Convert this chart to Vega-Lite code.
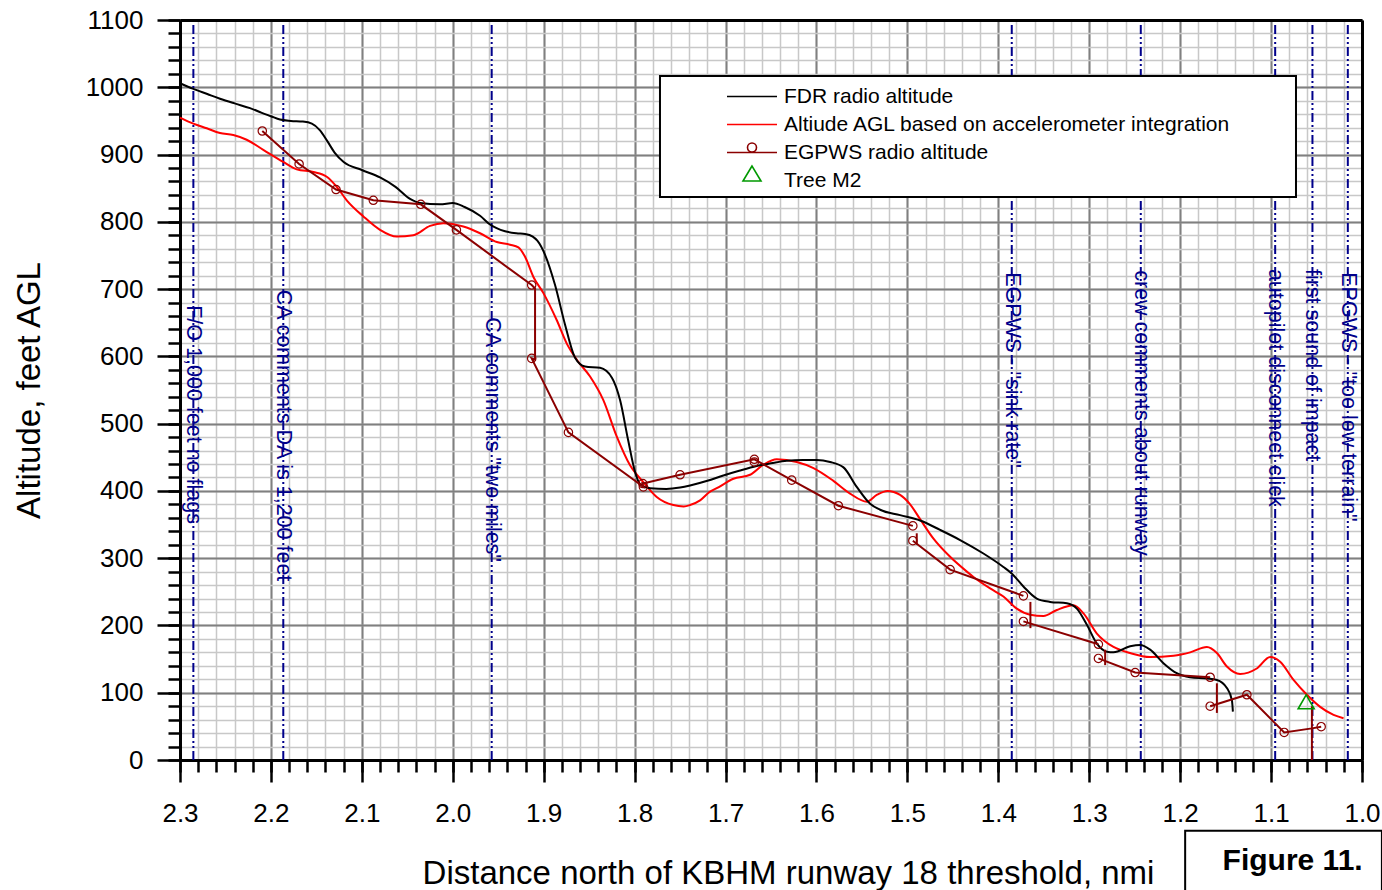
{
  "$schema": "https://vega.github.io/schema/vega-lite/v6.json",
  "width": 1182,
  "height": 740,
  "autosize": {"type": "none"},
  "padding": {"left": 180, "top": 20, "right": 20, "bottom": 130},
  "background": "white",
  "config": {
    "font": "Liberation Sans",
    "view": {"stroke": null},
    "axis": {"labelFont": "Liberation Sans", "titleFont": "Liberation Sans", "labelColor": "black", "titleColor": "black", "titleFontWeight": "normal"}
  },
  "datasets": {
    "events": [
      {"x": 2.2853, "labely": 676, "label": "F/O 1,000 feet no flags"},
      {"x": 2.1864, "labely": 699, "label": "CA comments DA is 1,200 feet"},
      {"x": 1.9572, "labely": 658, "label": "CA comments \"two miles\""},
      {"x": 1.3852, "labely": 725, "label": "EGPWS - \"sink rate\""},
      {"x": 1.2433, "labely": 728, "label": "crew comments about runway"},
      {"x": 1.0955, "labely": 730, "label": "autopilot disconnect click"},
      {"x": 1.0545, "labely": 730, "label": "first sound of impact"},
      {"x": 1.0156, "labely": 725, "label": "EPGWS - \"too low terrain\""}
    ],
    "fdr": [
      {"x": 2.300, "alt": 1006}, {"x": 2.286, "alt": 998}, {"x": 2.270, "alt": 990}, {"x": 2.256, "alt": 983},
      {"x": 2.240, "alt": 976}, {"x": 2.223, "alt": 969}, {"x": 2.210, "alt": 962}, {"x": 2.200, "alt": 957},
      {"x": 2.190, "alt": 952}, {"x": 2.178, "alt": 950}, {"x": 2.165, "alt": 949}, {"x": 2.155, "alt": 946},
      {"x": 2.146, "alt": 936}, {"x": 2.138, "alt": 920}, {"x": 2.130, "alt": 903}, {"x": 2.120, "alt": 889},
      {"x": 2.100, "alt": 877}, {"x": 2.080, "alt": 866}, {"x": 2.063, "alt": 852}, {"x": 2.047, "alt": 834},
      {"x": 2.036, "alt": 828}, {"x": 2.014, "alt": 826}, {"x": 2.000, "alt": 828}, {"x": 1.987, "alt": 822},
      {"x": 1.970, "alt": 809}, {"x": 1.959, "alt": 796}, {"x": 1.9425, "alt": 786}, {"x": 1.930, "alt": 783},
      {"x": 1.9205, "alt": 782}, {"x": 1.912, "alt": 778}, {"x": 1.907, "alt": 772}, {"x": 1.8985, "alt": 751},
      {"x": 1.8875, "alt": 706}, {"x": 1.8765, "alt": 647}, {"x": 1.8655, "alt": 598}, {"x": 1.8545, "alt": 585},
      {"x": 1.838, "alt": 583}, {"x": 1.8248, "alt": 568}, {"x": 1.816, "alt": 535}, {"x": 1.8072, "alt": 476},
      {"x": 1.7995, "alt": 428}, {"x": 1.794, "alt": 410}, {"x": 1.783, "alt": 404}, {"x": 1.765, "alt": 403},
      {"x": 1.750, "alt": 405}, {"x": 1.739, "alt": 408}, {"x": 1.720, "alt": 415}, {"x": 1.7024, "alt": 423},
      {"x": 1.685, "alt": 430}, {"x": 1.6657, "alt": 437}, {"x": 1.650, "alt": 441}, {"x": 1.6326, "alt": 445},
      {"x": 1.615, "alt": 446}, {"x": 1.5996, "alt": 446}, {"x": 1.585, "alt": 443}, {"x": 1.5703, "alt": 435},
      {"x": 1.5557, "alt": 406}, {"x": 1.541, "alt": 381}, {"x": 1.530, "alt": 372}, {"x": 1.508, "alt": 364},
      {"x": 1.486, "alt": 356}, {"x": 1.464, "alt": 342}, {"x": 1.442, "alt": 327}, {"x": 1.4164, "alt": 307},
      {"x": 1.3944, "alt": 287}, {"x": 1.385, "alt": 277}, {"x": 1.3724, "alt": 258}, {"x": 1.3577, "alt": 240},
      {"x": 1.343, "alt": 235}, {"x": 1.3246, "alt": 233}, {"x": 1.3136, "alt": 225}, {"x": 1.3026, "alt": 201},
      {"x": 1.2916, "alt": 173}, {"x": 1.2806, "alt": 161}, {"x": 1.2733, "alt": 160}, {"x": 1.255, "alt": 169},
      {"x": 1.244, "alt": 171}, {"x": 1.233, "alt": 164}, {"x": 1.2184, "alt": 144}, {"x": 1.2037, "alt": 129},
      {"x": 1.189, "alt": 123}, {"x": 1.1706, "alt": 121}, {"x": 1.1596, "alt": 119}, {"x": 1.1486, "alt": 107},
      {"x": 1.1431, "alt": 89}, {"x": 1.142, "alt": 72}
    ],
    "accel": [
      {"x": 2.300, "alt": 955}, {"x": 2.2853, "alt": 946}, {"x": 2.2706, "alt": 939}, {"x": 2.256, "alt": 932},
      {"x": 2.2414, "alt": 929}, {"x": 2.2267, "alt": 922}, {"x": 2.2084, "alt": 907}, {"x": 2.1864, "alt": 889},
      {"x": 2.1716, "alt": 878}, {"x": 2.1533, "alt": 874}, {"x": 2.1386, "alt": 867}, {"x": 2.1276, "alt": 852},
      {"x": 2.1166, "alt": 832}, {"x": 2.0983, "alt": 808}, {"x": 2.080, "alt": 788}, {"x": 2.0616, "alt": 778},
      {"x": 2.0434, "alt": 780}, {"x": 2.025, "alt": 794}, {"x": 2.0104, "alt": 798}, {"x": 1.9884, "alt": 793},
      {"x": 1.970, "alt": 783}, {"x": 1.9516, "alt": 770}, {"x": 1.937, "alt": 766}, {"x": 1.9278, "alt": 762},
      {"x": 1.9205, "alt": 748}, {"x": 1.9113, "alt": 718}, {"x": 1.9003, "alt": 694}, {"x": 1.8857, "alt": 654},
      {"x": 1.8746, "alt": 619}, {"x": 1.8636, "alt": 595}, {"x": 1.849, "alt": 570}, {"x": 1.8344, "alt": 535},
      {"x": 1.8197, "alt": 481}, {"x": 1.805, "alt": 438}, {"x": 1.7904, "alt": 413}, {"x": 1.7757, "alt": 391},
      {"x": 1.7574, "alt": 379}, {"x": 1.746, "alt": 377}, {"x": 1.739, "alt": 379}, {"x": 1.728, "alt": 386},
      {"x": 1.717, "alt": 399}, {"x": 1.7097, "alt": 404}, {"x": 1.6913, "alt": 418}, {"x": 1.673, "alt": 424},
      {"x": 1.6583, "alt": 439}, {"x": 1.6437, "alt": 447}, {"x": 1.6217, "alt": 443}, {"x": 1.6033, "alt": 434},
      {"x": 1.5814, "alt": 415}, {"x": 1.563, "alt": 396}, {"x": 1.5446, "alt": 384}, {"x": 1.5337, "alt": 394},
      {"x": 1.522, "alt": 400}, {"x": 1.508, "alt": 394}, {"x": 1.497, "alt": 380}, {"x": 1.486, "alt": 358},
      {"x": 1.4713, "alt": 329}, {"x": 1.453, "alt": 302}, {"x": 1.4346, "alt": 280}, {"x": 1.4273, "alt": 272},
      {"x": 1.409, "alt": 255}, {"x": 1.3944, "alt": 243}, {"x": 1.3797, "alt": 225}, {"x": 1.365, "alt": 216},
      {"x": 1.3504, "alt": 214}, {"x": 1.3356, "alt": 223}, {"x": 1.3173, "alt": 230}, {"x": 1.3063, "alt": 218},
      {"x": 1.2916, "alt": 188}, {"x": 1.2733, "alt": 168}, {"x": 1.255, "alt": 159}, {"x": 1.233, "alt": 153},
      {"x": 1.2073, "alt": 155}, {"x": 1.189, "alt": 160}, {"x": 1.1706, "alt": 168}, {"x": 1.1596, "alt": 159},
      {"x": 1.1486, "alt": 139}, {"x": 1.134, "alt": 128}, {"x": 1.1157, "alt": 136}, {"x": 1.101, "alt": 153},
      {"x": 1.09, "alt": 146}, {"x": 1.0753, "alt": 119}, {"x": 1.0606, "alt": 97}, {"x": 1.046, "alt": 79},
      {"x": 1.0313, "alt": 67}, {"x": 1.0203, "alt": 62}
    ],
    "egpws_line": [
      {"seg": 1, "i": 1, "x": 2.2095, "alt": 935}, {"seg": 1, "i": 2, "x": 2.169, "alt": 886},
      {"seg": 1, "i": 3, "x": 2.1284, "alt": 848}, {"seg": 1, "i": 4, "x": 2.0874, "alt": 832},
      {"seg": 1, "i": 5, "x": 2.0352, "alt": 826}, {"seg": 1, "i": 6, "x": 1.996, "alt": 788},
      {"seg": 1, "i": 7, "x": 1.9132, "alt": 706}, {"seg": 1, "i": 8, "x": 1.9095, "alt": 701},
      {"seg": 1, "i": 9, "x": 1.9095, "alt": 595}, {"seg": 1, "i": 10, "x": 1.9132, "alt": 597},
      {"seg": 1, "i": 11, "x": 1.8728, "alt": 487}, {"seg": 1, "i": 12, "x": 1.7904, "alt": 406},
      {"seg": 1, "i": 13, "x": 1.791, "alt": 411}, {"seg": 1, "i": 14, "x": 1.75, "alt": 424},
      {"seg": 1, "i": 15, "x": 1.6683, "alt": 447}, {"seg": 1, "i": 16, "x": 1.6272, "alt": 416},
      {"seg": 1, "i": 17, "x": 1.5759, "alt": 378}, {"seg": 1, "i": 18, "x": 1.494, "alt": 348},
      {"seg": 2, "i": 19, "x": 1.4897, "alt": 337}, {"seg": 2, "i": 20, "x": 1.4897, "alt": 320},
      {"seg": 3, "i": 21, "x": 1.494, "alt": 326}, {"seg": 3, "i": 22, "x": 1.453, "alt": 283},
      {"seg": 3, "i": 23, "x": 1.3724, "alt": 244},
      {"seg": 4, "i": 24, "x": 1.3647, "alt": 235}, {"seg": 4, "i": 25, "x": 1.3647, "alt": 196},
      {"seg": 5, "i": 26, "x": 1.3724, "alt": 206}, {"seg": 5, "i": 27, "x": 1.2899, "alt": 172},
      {"seg": 6, "i": 28, "x": 1.2825, "alt": 164}, {"seg": 6, "i": 29, "x": 1.2825, "alt": 141},
      {"seg": 7, "i": 30, "x": 1.2899, "alt": 151}, {"seg": 7, "i": 31, "x": 1.2495, "alt": 130},
      {"seg": 7, "i": 32, "x": 1.167, "alt": 123},
      {"seg": 8, "i": 33, "x": 1.1596, "alt": 114}, {"seg": 8, "i": 34, "x": 1.1596, "alt": 70},
      {"seg": 9, "i": 35, "x": 1.167, "alt": 80}, {"seg": 9, "i": 36, "x": 1.1266, "alt": 97},
      {"seg": 9, "i": 37, "x": 1.0856, "alt": 41}, {"seg": 9, "i": 38, "x": 1.0551, "alt": 47},
      {"seg": 9, "i": 39, "x": 1.0449, "alt": 49.5},
      {"seg": 10, "i": 40, "x": 1.0551, "alt": 80}, {"seg": 10, "i": 41, "x": 1.0551, "alt": 0}
    ],
    "egpws_pts": [
      {"x": 2.2095, "alt": 935}, {"x": 2.169, "alt": 886}, {"x": 2.1284, "alt": 848}, {"x": 2.0874, "alt": 832},
      {"x": 2.0352, "alt": 826}, {"x": 1.996, "alt": 788}, {"x": 1.9132, "alt": 706}, {"x": 1.9132, "alt": 597},
      {"x": 1.8728, "alt": 487}, {"x": 1.791, "alt": 411}, {"x": 1.7904, "alt": 406}, {"x": 1.75, "alt": 424},
      {"x": 1.6683, "alt": 447}, {"x": 1.6683, "alt": 443}, {"x": 1.6272, "alt": 416}, {"x": 1.5759, "alt": 378},
      {"x": 1.494, "alt": 348}, {"x": 1.494, "alt": 326}, {"x": 1.453, "alt": 283}, {"x": 1.3724, "alt": 244},
      {"x": 1.3724, "alt": 206}, {"x": 1.2899, "alt": 172}, {"x": 1.2899, "alt": 151}, {"x": 1.2495, "alt": 130},
      {"x": 1.167, "alt": 123}, {"x": 1.167, "alt": 80}, {"x": 1.1266, "alt": 97}, {"x": 1.0856, "alt": 41},
      {"x": 1.0449, "alt": 49.5}
    ],
    "tree": [
      {"x": 1.0614, "alt": 86.5}
    ]
  },
  "layer": [
    {
      "data": {"name": "events"},
      "mark": {"type": "rule", "color": "#00008B", "strokeWidth": 2, "strokeDash": [9, 3, 2, 3, 2, 3]},
      "encoding": {
        "x": {"field": "x", "type": "quantitative",
          "scale": {"domain": [1.0, 2.3], "reverse": true, "nice": false, "zero": false},
          "axis": {"orient": "bottom", "title": null, "labels": false, "domain": false,
            "ticks": true, "tickSize": 12, "tickWidth": 2.5, "tickColor": "black",
            "grid": true, "gridColor": "#c8c8c8", "gridWidth": 1.5,
            "values": [1, 1.02, 1.04, 1.06, 1.08, 1.1, 1.12, 1.14, 1.16, 1.18, 1.2, 1.22, 1.24, 1.26, 1.28, 1.3, 1.32, 1.34, 1.36, 1.38, 1.4, 1.42, 1.44, 1.46, 1.48, 1.5, 1.52, 1.54, 1.56, 1.58, 1.6, 1.62, 1.64, 1.66, 1.68, 1.7, 1.72, 1.74, 1.76, 1.78, 1.8, 1.82, 1.84, 1.86, 1.88, 1.9, 1.92, 1.94, 1.96, 1.98, 2, 2.02, 2.04, 2.06, 2.08, 2.1, 2.12, 2.14, 2.16, 2.18, 2.2, 2.22, 2.24, 2.26, 2.28, 2.3]}},
        "y": {"datum": 0, "type": "quantitative",
          "scale": {"domain": [0, 1100], "nice": false, "zero": false},
          "axis": {"orient": "left", "title": null, "labels": false, "domain": false,
            "ticks": true, "tickSize": 12, "tickWidth": 2.5, "tickColor": "black",
            "grid": true, "gridColor": "#c8c8c8", "gridWidth": 1.5,
            "values": [0, 20, 40, 60, 80, 100, 120, 140, 160, 180, 200, 220, 240, 260, 280, 300, 320, 340, 360, 380, 400, 420, 440, 460, 480, 500, 520, 540, 560, 580, 600, 620, 640, 660, 680, 700, 720, 740, 760, 780, 800, 820, 840, 860, 880, 900, 920, 940, 960, 980, 1000, 1020, 1040, 1060, 1080, 1100]}},
        "y2": {"datum": 1100}
      }
    },
    {
      "data": {"values": [{}]},
      "mark": {"type": "rect", "fill": "white", "stroke": "black", "strokeWidth": 2},
      "encoding": {
        "x": {"datum": 1.7721, "type": "quantitative", "scale": {"domain": [1.0, 2.3], "reverse": true, "nice": false, "zero": false}, "axis": null},
        "x2": {"datum": 1.0726},
        "y": {"datum": 1016.8, "type": "quantitative", "scale": {"domain": [0, 1100], "nice": false, "zero": false}, "axis": null},
        "y2": {"datum": 836.9}
      }
    },
    {
      "data": {"name": "events"},
      "mark": {"type": "text", "angle": 90, "align": "left", "baseline": "middle", "fontSize": 21.5, "color": "#00008B", "font": "Liberation Sans"},
      "encoding": {
        "x": {"field": "x", "type": "quantitative", "scale": {"domain": [1.0, 2.3], "reverse": true, "nice": false, "zero": false}, "axis": null},
        "y": {"field": "labely", "type": "quantitative", "scale": {"domain": [0, 1100], "nice": false, "zero": false}, "axis": null},
        "text": {"field": "label"}
      }
    },
    {
      "data": {"name": "accel"},
      "transform": [{"calculate": "'Altiude AGL based on accelerometer integration'", "as": "series"}],
      "mark": {"type": "line", "strokeWidth": 2, "interpolate": "monotone"},
      "encoding": {
        "x": {"field": "x", "type": "quantitative",
          "scale": {"domain": [1.0, 2.3], "reverse": true, "nice": false, "zero": false},
          "axis": {"orient": "bottom", "values": [1, 1.1, 1.2, 1.3, 1.4, 1.5, 1.6, 1.7, 1.8, 1.9, 2, 2.1, 2.2, 2.3],
            "format": ".1f", "labelFontSize": 26, "labelPadding": 18, "labelFlush": false, "labelOverlap": false,
            "tickSize": 22, "tickWidth": 2.5, "tickColor": "black",
            "domain": true, "domainColor": "black", "domainWidth": 3,
            "grid": true, "gridColor": "#808080", "gridWidth": 2,
            "title": "Distance north of KBHM runway 18 threshold, nmi", "titleFontSize": 33,
            "titleX": 608, "titleY": 123, "titleBaseline": "alphabetic", "titleAlign": "center"}},
        "y": {"field": "alt", "type": "quantitative",
          "scale": {"domain": [0, 1100], "nice": false, "zero": false},
          "axis": {"orient": "left", "values": [0, 100, 200, 300, 400, 500, 600, 700, 800, 900, 1000, 1100],
            "format": "d", "labelFontSize": 26, "labelPadding": 14, "labelFlush": false, "labelOverlap": false,
            "tickSize": 23, "tickWidth": 2.5, "tickColor": "black",
            "domain": true, "domainColor": "black", "domainWidth": 3,
            "grid": true, "gridColor": "#808080", "gridWidth": 2,
            "title": "Altitude, feet AGL", "titleFontSize": 33, "titleAngle": -90,
            "titleX": -141, "titleY": 370, "titleBaseline": "alphabetic", "titleAlign": "center"}},
        "color": {"field": "series", "type": "nominal",
          "scale": {"domain": ["FDR radio altitude", "Altiude AGL based on accelerometer integration", "EGPWS radio altitude", "Tree M2"],
            "range": ["#000000", "#FF0000", "#8B0000", "#009900"]},
          "legend": {"orient": "none", "legendX": 561.5, "legendY": 66, "title": null, "padding": 0,
            "symbolSize": 100, "labelFontSize": 21, "labelFont": "Liberation Sans", "labelColor": "black",
            "labelOffset": 21.5, "rowPadding": -1, "labelLimit": 700,
            "encode": {"symbols": {"update": {
              "shape": {"signal": "datum.value === 'Tree M2' ? 'M0,-2.9M0,1M0,-2.9L-1.8,0.1L1.8,0.1Z' : (datum.value === 'EGPWS radio altitude' ? 'M0,-2.9M0,1M-5,0H5M0.9,-1A0.9,0.9,0,1,1,-0.9,-1A0.9,0.9,0,1,1,0.9,-1' : 'M0,-2.9M0,1M-5,0H5')"},
              "fill": {"value": "transparent"},
              "stroke": {"scale": "color", "field": "value"},
              "strokeWidth": {"value": 1.6},
              "opacity": {"value": 1}
            }}}}},
        "order": {"field": "x", "sort": "descending"}
      }
    },
    {
      "data": {"name": "fdr"},
      "transform": [{"calculate": "'FDR radio altitude'", "as": "series"}],
      "mark": {"type": "line", "strokeWidth": 2, "interpolate": "monotone"},
      "encoding": {
        "x": {"field": "x", "type": "quantitative", "scale": {"domain": [1.0, 2.3], "reverse": true, "nice": false, "zero": false}, "axis": null},
        "y": {"field": "alt", "type": "quantitative", "scale": {"domain": [0, 1100], "nice": false, "zero": false}, "axis": null},
        "color": {"field": "series", "type": "nominal"},
        "order": {"field": "x", "sort": "descending"}
      }
    },
    {
      "data": {"name": "egpws_line"},
      "transform": [{"calculate": "'EGPWS radio altitude'", "as": "series"}],
      "mark": {"type": "line", "strokeWidth": 2},
      "encoding": {
        "x": {"field": "x", "type": "quantitative", "scale": {"domain": [1.0, 2.3], "reverse": true, "nice": false, "zero": false}, "axis": null},
        "y": {"field": "alt", "type": "quantitative", "scale": {"domain": [0, 1100], "nice": false, "zero": false}, "axis": null},
        "color": {"field": "series", "type": "nominal"},
        "detail": {"field": "seg", "type": "nominal"},
        "order": {"field": "i", "type": "quantitative"}
      }
    },
    {
      "data": {"name": "egpws_pts"},
      "transform": [{"calculate": "'EGPWS radio altitude'", "as": "series"}],
      "mark": {"type": "point", "shape": "circle", "filled": false, "size": 70, "strokeWidth": 1.2, "opacity": 1},
      "encoding": {
        "x": {"field": "x", "type": "quantitative", "scale": {"domain": [1.0, 2.3], "reverse": true, "nice": false, "zero": false}, "axis": null},
        "y": {"field": "alt", "type": "quantitative", "scale": {"domain": [0, 1100], "nice": false, "zero": false}, "axis": null},
        "color": {"field": "series", "type": "nominal"}
      }
    },
    {
      "data": {"name": "tree"},
      "transform": [{"calculate": "'Tree M2'", "as": "series"}],
      "mark": {"type": "point", "shape": "triangle-up", "filled": false, "size": 256, "strokeWidth": 1.6, "opacity": 1},
      "encoding": {
        "x": {"field": "x", "type": "quantitative", "scale": {"domain": [1.0, 2.3], "reverse": true, "nice": false, "zero": false},
          "axis": {"orient": "top", "title": null, "labels": false, "ticks": false, "grid": false, "domain": true, "domainColor": "black", "domainWidth": 3, "zindex": 1}},
        "y": {"field": "alt", "type": "quantitative", "scale": {"domain": [0, 1100], "nice": false, "zero": false},
          "axis": {"orient": "right", "title": null, "labels": false, "ticks": false, "grid": false, "domain": true, "domainColor": "black", "domainWidth": 3, "zindex": 1}},
        "color": {"field": "series", "type": "nominal"}
      }
    },
    {
      "data": {"values": [{}]},
      "mark": {"type": "rect", "fill": "white", "stroke": "black", "strokeWidth": 2},
      "encoding": {
        "x": {"datum": 1.1945, "type": "quantitative", "scale": {"domain": [1.0, 2.3], "reverse": true, "nice": false, "zero": false}, "axis": null},
        "x2": {"datum": 0.9781},
        "y": {"datum": -105, "type": "quantitative", "scale": {"domain": [0, 1100], "nice": false, "zero": false}, "axis": null},
        "y2": {"datum": -200}
      }
    },
    {
      "data": {"values": [{}]},
      "mark": {"type": "text", "text": "Figure 11.", "fontSize": 30, "fontWeight": "bold", "align": "center", "baseline": "alphabetic", "font": "Liberation Sans", "color": "black"},
      "encoding": {
        "x": {"datum": 1.0763, "type": "quantitative", "scale": {"domain": [1.0, 2.3], "reverse": true, "nice": false, "zero": false}, "axis": null},
        "y": {"datum": -163.5, "type": "quantitative", "scale": {"domain": [0, 1100], "nice": false, "zero": false}, "axis": null}
      }
    }
  ],
  "resolve": {"axis": {"x": "independent", "y": "independent"}}
}
